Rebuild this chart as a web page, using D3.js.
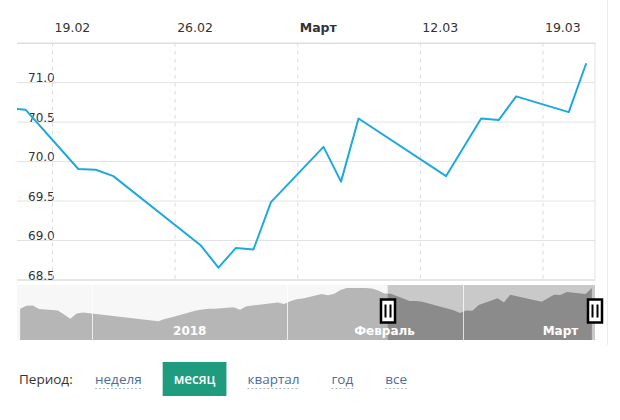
<!DOCTYPE html>
<html>
<head>
<meta charset="utf-8">
<script src="https://cdn.jsdelivr.net/npm/d3@7"></script>
<style>
  body { margin: 0; background: #fff; }
  svg { display: block; font-family: "DejaVu Sans", Verdana, sans-serif; }
</style>
</head>
<body>
<svg id="chart" width="620" height="420"></svg>
<script>
"use strict";

// курс евро, ЦБ РФ (руб.)
const dates = [
  "2017-12-20", "2017-12-21", "2017-12-22", "2017-12-23", "2017-12-26", "2017-12-27",
  "2017-12-28", "2017-12-29", "2017-12-30", "2018-01-10", "2018-01-11", "2018-01-12",
  "2018-01-13", "2018-01-16", "2018-01-17", "2018-01-18", "2018-01-19", "2018-01-20",
  "2018-01-23", "2018-01-24", "2018-01-25", "2018-01-26", "2018-01-27", "2018-01-30",
  "2018-01-31", "2018-02-01", "2018-02-02", "2018-02-03", "2018-02-06", "2018-02-07",
  "2018-02-08", "2018-02-09", "2018-02-10", "2018-02-13", "2018-02-14", "2018-02-15",
  "2018-02-16", "2018-02-17", "2018-02-20", "2018-02-21", "2018-02-22", "2018-02-27",
  "2018-02-28", "2018-03-01", "2018-03-02", "2018-03-03", "2018-03-06", "2018-03-07",
  "2018-03-08", "2018-03-13", "2018-03-15", "2018-03-16", "2018-03-17", "2018-03-20",
  "2018-03-21"
];
const rates = [
  69.10, 69.40, 69.42, 69.06, 68.91, 68.49,
  68.06, 68.60, 68.71, 67.87, 67.79, 68.02,
  68.19, 68.72, 68.90, 69.01, 69.09, 69.10,
  69.24, 68.99, 69.34, 69.43, 69.51, 69.74,
  69.58, 69.86, 70.07, 70.15, 70.62, 70.48,
  70.65, 71.03, 71.24, 71.24, 71.19, 70.98,
  70.67, 70.65, 69.90, 69.89, 69.81, 68.93,
  68.65, 68.90, 68.88, 69.48, 70.18, 69.74,
  70.54, 69.81, 70.54, 70.52, 70.82, 70.62,
  71.24
];

const weekTicks = ["2018-02-19", "2018-02-26", "2018-03-05", "2018-03-12", "2018-03-19"];
const weekLabels = ["19.02", "26.02", "Март", "12.03", "19.03"];
const rateTicks = [68.5, 69.0, 69.5, 70.0, 70.5, 71.0, 71.5];

const monthStarts = ["2018-01-01", "2018-02-01", "2018-03-01"];
const monthLabelDates = ["2018-01-16", "2018-02-16", "2018-03-16"];
const monthLabels = ["2018", "Февраль", "Март"];

const navigatorRange = ["2017-12-20", "2018-03-22"];
const selectedRange = ["2018-02-17", "2018-03-22"];
const rateRange = [68.5, 71.5];
const navigatorRateRange = [65.85, 71.55];

const periods = ["неделя", "месяц", "квартал", "год", "все"];
const activePeriod = "месяц";

const parse = d3.timeParse("%Y-%m-%d");
const noon = (s) => d3.timeHour.offset(parse(s), 12);
const points = dates.map((d, i) => [noon(d), rates[i]]);

const plotLeft = 17, plotRight = 595, plotTop = 42.7, plotBottom = 279.5;
const navTop = 285, navBottom = 340;

const svg = d3.select("#chart");

// ---- main plot ----
const x = d3.scaleTime().domain(selectedRange.map(parse)).range([plotLeft, plotRight]);
const y = d3.scaleLinear().domain(rateRange).range([plotBottom, plotTop]);

let yAxis = svg.append("g")
  .attr("transform", "translate(" + plotLeft + ",0)")
  .call(d3.axisRight(y)
    .tickValues(rateTicks)
    .tickSize(plotRight - plotLeft)
    .tickFormat((d) => d === 71.5 ? "" : d3.format(".1f")(d)));
yAxis.select(".domain").remove();
yAxis.selectAll("line")
  .attr("stroke", (d) => (d === 68.5 || d === 71.5) ? "#cccccc" : "#e2e2e2");
yAxis.selectAll("text")
  .attr("x", 11)
  .attr("y", -0.5)
  .attr("dy", 0)
  .attr("text-anchor", "start")
  .attr("fill", "#333")
  .style("font-size", "12px")
  .style("font-family", "'DejaVu Sans', Verdana, sans-serif");

let xAxis = svg.append("g")
  .attr("transform", "translate(0," + plotTop + ")")
  .call(d3.axisBottom(x)
    .tickValues(weekTicks.map(parse))
    .tickSize(plotBottom - plotTop)
    .tickFormat((d, i) => weekLabels[i]));
xAxis.select(".domain").remove();
xAxis.selectAll("line")
  .attr("stroke", "#dcdcdc")
  .attr("stroke-dasharray", "4,4");
xAxis.selectAll("text")
  .attr("y", -11)
  .attr("dy", 0)
  .attr("x", 2)
  .attr("text-anchor", "start")
  .attr("fill", "#333")
  .attr("font-weight", (d, i) => weekLabels[i] === "Март" ? "bold" : "normal")
  .style("font-size", "12.5px")
  .style("font-family", "'DejaVu Sans', Verdana, sans-serif");

svg.append("line")
  .attr("x1", plotRight).attr("x2", plotRight)
  .attr("y1", plotTop).attr("y2", plotBottom)
  .attr("stroke", "#e2e2e2");

svg.append("clipPath").attr("id", "plotClip")
  .append("rect")
  .attr("x", plotLeft).attr("y", plotTop)
  .attr("width", plotRight - plotLeft).attr("height", plotBottom - plotTop);

let line = d3.line()
  .x((d) => x(d[0]))
  .y((d) => y(d[1]));

svg.append("path")
  .datum(points)
  .attr("clip-path", "url(#plotClip)")
  .attr("fill", "none")
  .attr("stroke", "#1ea9de")
  .attr("stroke-width", 2)
  .attr("stroke-linejoin", "round")
  .attr("d", line);

// ---- navigator ----
const nx = d3.scaleTime().domain(navigatorRange.map(parse)).range([plotLeft, plotRight]);
const ny = d3.scaleLinear().domain(navigatorRateRange).range([navBottom, navTop]);
const selX = selectedRange.map((d) => nx(parse(d)));

let area = d3.area()
  .x((d) => nx(d[0]))
  .y0(navBottom)
  .y1((d) => ny(d[1]));

let nav = svg.append("g");
nav.append("rect")
  .attr("x", plotLeft).attr("y", navTop)
  .attr("width", plotRight - plotLeft).attr("height", navBottom - navTop)
  .attr("fill", "#f7f7f7");
nav.append("path")
  .datum(points)
  .attr("fill", "#b6b6b6")
  .attr("d", area);

svg.append("clipPath").attr("id", "selClip")
  .append("rect")
  .attr("x", selX[0]).attr("y", navTop)
  .attr("width", selX[1] - selX[0]).attr("height", navBottom - navTop);

let sel = nav.append("g").attr("clip-path", "url(#selClip)");
sel.append("rect")
  .attr("x", plotLeft).attr("y", navTop)
  .attr("width", plotRight - plotLeft).attr("height", navBottom - navTop)
  .attr("fill", "#c9c9c9");
sel.append("path")
  .datum(points)
  .attr("fill", "#8b8b8b")
  .attr("d", area);

nav.selectAll(".month-line")
  .data(monthStarts)
  .join("line")
  .attr("class", "month-line")
  .attr("x1", (d) => Math.round(nx(parse(d))) + 0.5)
  .attr("x2", (d) => Math.round(nx(parse(d))) + 0.5)
  .attr("y1", navTop).attr("y2", navBottom)
  .attr("stroke", "#fff")
  .attr("stroke-opacity", 0.75);

nav.selectAll(".month-label")
  .data(monthLabels)
  .join("text")
  .attr("class", "month-label")
  .attr("x", (d, i) => nx(noon(monthLabelDates[i])))
  .attr("y", 335)
  .attr("text-anchor", "middle")
  .attr("fill", "#fff")
  .attr("font-size", "12px")
  .attr("font-weight", (d) => d === "2018" ? "bold" : "600")
  .text((d) => d);

// handles
selX.forEach((hx) => {
  let h = nav.append("g").attr("transform", "translate(" + Math.round(hx) + ",311)");
  h.append("rect")
    .attr("x", -7).attr("y", -11.5)
    .attr("width", 14).attr("height", 23)
    .attr("fill", "#fff")
    .attr("stroke", "#000")
    .attr("stroke-width", 2.5);
  [-2.5, 2.5].forEach((dx) => {
    h.append("line")
      .attr("x1", dx).attr("x2", dx)
      .attr("y1", -6.5).attr("y2", 6.5)
      .attr("stroke", "#000")
      .attr("stroke-width", 2);
  });
});

svg.append("line")
  .attr("x1", 607.5).attr("x2", 607.5)
  .attr("y1", 0).attr("y2", 345)
  .attr("stroke", "#ececec");

// ---- period switcher ----
let bar = svg.append("g")
  .style("font-size", "13.5px")
  .style("font-family", "'Open Sans', sans-serif");
bar.append("text")
  .attr("x", 19).attr("y", 384)
  .attr("fill", "#333")
  .text("Период:");

let bx = 84;
periods.forEach((p) => {
  let g = bar.append("g");
  let t = g.append("text")
    .attr("x", bx + 11).attr("y", 384)
    .attr("fill", p === activePeriod ? "#fff" : "#4b6e98")
    .attr("font-weight", p === activePeriod ? "600" : "normal")
    .text(p);
  let w = t.node().getComputedTextLength();
  if (p === activePeriod)
  {
    g.insert("rect", "text")
      .attr("x", bx).attr("y", 362)
      .attr("width", w + 22).attr("height", 34)
      .attr("fill", "#1f9b7d");
  }
  else
  {
    g.append("line")
      .attr("x1", bx + 11).attr("x2", bx + 11 + w)
      .attr("y1", 388.5).attr("y2", 388.5)
      .attr("stroke", "#a9b9cc")
      .attr("stroke-dasharray", "2,2");
  }
  bx += w + 22 + 10;
});
</script>
</body>
</html>
